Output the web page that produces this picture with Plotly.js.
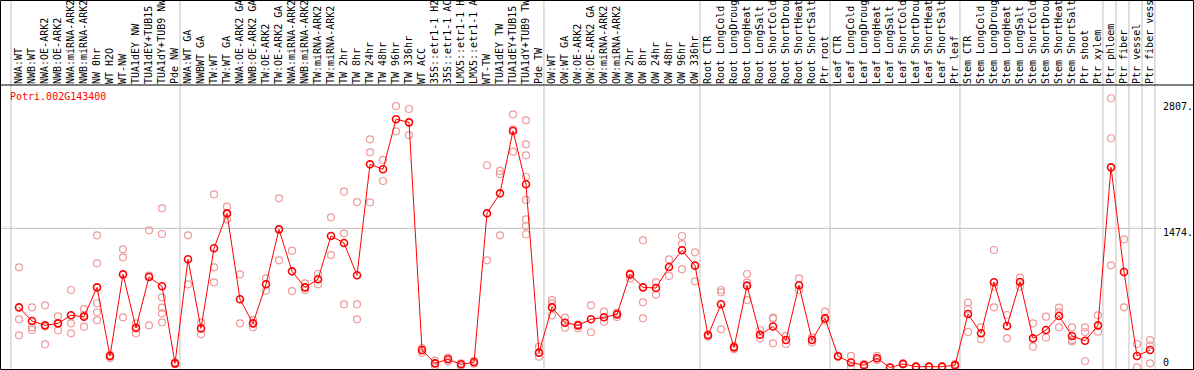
<!DOCTYPE html>
<html>
<head>
<meta charset="utf-8">
<script src="https://cdn.plot.ly/plotly-3.0.1.min.js"></script>
<style>
  html, body { margin: 0; padding: 0; background: #fff; overflow: hidden; }
  #chart { width: 1194px; height: 370px; }
</style>
</head>
<body>
<div id="chart"></div>
<script>
// ---------------- data ----------------
const geneName = "Potri.002G143400";

const categories = [
  "NWA:WT", "NWB:WT", "NWA:OE-ARK2", "NWB:OE-ARK2", "NWA:miRNA-ARK2", "NWB:miRNA-ARK2",
  "NW 0hr", "WT H2O", "WT-NW", "TUA1dEY NW", "TUA1dEY+TUB15 NW", "TUA1dY+TUB9 NW", "Pde NW",
  "NWA:WT GA", "NWBWT GA", "TW:WT", "TW:WT GA", "NWA:OE-ARK2 GA", "NWB:OE-ARK2 GA",
  "TW:OE-ARK2", "TW:OE-ARK2 GA", "NWA:miRNA-ARK2 GA", "NWB:miRNA-ARK2 GA", "TW:miRNA-ARK2",
  "TW:miRNA-ARK2 GA", "TW 2hr", "TW 8hr", "TW 24hr", "TW 48hr", "TW 96hr", "TW 336hr",
  "WT ACC", "35S::etr1-1 H2O", "35S::etr1-1 ACC", "LMX5::etr1-1 H2O", "LMX5::etr1-1 ACC",
  "WT-TW", "TUA1dEY TW", "TUA1dEY+TUB15 TW", "TUA1dY+TUB9 TW", "Pde TW",
  "OW:WT", "OW:WT GA", "OW:OE-ARK2", "OW:OE-ARK2 GA", "OW:miRNA-ARK2", "OW:miRNA-ARK2 GA",
  "OW 2hr", "OW 8hr", "OW 24hr", "OW 48hr", "OW 96hr", "OW 336hr",
  "Root CTR", "Root LongCold", "Root LongDrought", "Root LongHeat", "Root LongSalt",
  "Root ShortCold", "Root ShortDrought", "Root ShortHeat", "Root ShortSalt", "Ptr root",
  "Leaf CTR", "Leaf LongCold", "Leaf LongDrought", "Leaf LongHeat", "Leaf LongSalt",
  "Leaf ShortCold", "Leaf ShortDrought", "Leaf ShortHeat", "Leaf ShortSalt", "Ptr leaf",
  "Stem CTR", "Stem LongCold", "Stem LongDrought", "Stem LongHeat", "Stem LongSalt",
  "Stem ShortCold", "Stem ShortDrought", "Stem ShortHeat", "Stem ShortSalt", "Ptr shoot",
  "Ptr xylem", "Ptr phloem", "Ptr fiber", "Ptr vessel", "Ptr fiber vessel"
];

const meanValues = [
  640, 496, 450, 471, 556, 542, 851, 127, 988, 422, 960, 862, 49,
  1147, 418, 1263, 1632, 725, 471, 883, 1463, 1020, 851, 936, 1393,
  1319, 978, 2149, 2097, 2624, 2592,
  190, 49, 92, 39, 60, 1632, 1843, 2501, 1938, 162,
  640, 478, 450, 514, 535, 566, 988, 851, 844, 1066, 1242, 1080,
  345, 672, 218, 869, 350, 438, 295, 873, 295, 524,
  124, 58, 30, 103, 5, 43, 14, 14, 14, 30,
  570, 366, 904, 443, 907, 313, 401, 549, 338, 288, 450,
  2117, 1013, 127, 190
];

const replicateValues = [
  [1062, 514, 345], [640, 429, 401], [661, 440, 250], [545, 471, 398], [823, 471, 366],
  [622, 560, 436], [1400, 1104, 683, 588, 503], [140, 120, 105], [1252, 1168, 535],
  [471, 430, 366], [1453, 974, 450], [1685, 1414, 746, 636, 577, 482], [60, 45, 40],
  [1400, 883], [478, 355], [1833, 1062, 904], [1702, 1620, 1569], [988, 471], [506, 429],
  [946, 816], [1790, 1136], [1238, 812], [893, 823], [992, 883], [1590, 1192],
  [1860, 1421, 672], [1751, 672, 514], [2413, 2276, 1748], [2195, 1973], [2764, 2497],
  [2733, 2458],
  [210, 185, 160], [77, 49, 21], [109, 70], [50, 25], [75, 45], [2139, 1136],
  [2079, 2047, 1400], [2677, 2518, 2282], [2613, 2360, 2244, 2018, 1773, 1569, 1498, 1411],
  [225, 120],
  [717, 682, 556], [531, 425], [461, 419], [661, 377], [594, 489], [584, 538], [999, 946],
  [1347, 693, 524], [907, 774], [1147, 971], [1393, 1308, 1041], [1221, 915],
  [355, 330], [823, 798, 408], [232, 197], [992, 900, 717], [401, 313], [531, 520, 260],
  [338, 253], [946, 823], [320, 270], [594, 500],
  [130, 118], [127, 10], [40, 20], [127, 85], [8, 3], [50, 36], [18, 10], [18, 10], [18, 10], [40, 20],
  [689, 620, 380], [429, 303], [1245, 858, 640], [559, 313], [953, 858], [471, 225],
  [542, 323], [636, 590, 429], [429, 295, 280], [429, 380, 74], [556, 383],
  [2846, 2424, 1083], [1358, 640], [253, 7], [295, 240, 49]
];

// first category index of each group (group separators drawn before them)
const groupStarts = [0, 13, 41, 53, 63, 73, 84, 85, 86, 87, 88];

const yLabelValues = [2807, 1474, 0];
const yLabelTexts = ["2807.", "1474.", "0"];
const yGridValues = [1474];

// ---------------- build ----------------
const idx = categories.map((_, i) => i);
const repX = [], repY = [];
replicateValues.forEach((vals, i) => vals.forEach(v => { repX.push(i); repY.push(v); }));

const W = 1194, H = 370;
const mL = 1, mR = 33, mT = 85, mB = 1;
const plotW = W - mL - mR, plotH = H - mT - mB;
const px2paperX = px => (px - mL) / plotW;
const px2paperY = py => (H - mB - py) / plotH;

const mono = "DejaVu Sans Mono, Liberation Mono, monospace";
const gridColor = "#c0c0c0";

const shapes = [];
yGridValues.forEach(v => shapes.push({
  type: "line", xref: "paper", yref: "y", x0: 0, x1: 1, y0: v, y1: v,
  line: { color: gridColor, width: 1 }, layer: "below"
}));
groupStarts.forEach(k => shapes.push({
  type: "line", xref: "x", yref: "paper", x0: k - 0.62, x1: k - 0.62,
  y0: px2paperY(H + 2), y1: px2paperY(-2),
  line: { color: gridColor, width: 1 }, layer: "below"
}));
// frame and header separator
shapes.push({
  type: "rect", xref: "paper", yref: "paper",
  x0: px2paperX(0.5), x1: px2paperX(W - 0.5), y0: px2paperY(H - 0.5), y1: px2paperY(0.5),
  line: { color: "#000", width: 1 }, fillcolor: "rgba(0,0,0,0)"
});
shapes.push({
  type: "line", xref: "paper", yref: "paper",
  x0: px2paperX(0), x1: px2paperX(W), y0: px2paperY(85), y1: px2paperY(85),
  line: { color: "#000", width: 1 }
});

const yShifts = [-5, -4, 6];
const annotations = yLabelValues.map((v, i) => ({
  xref: "paper", yref: "y", x: px2paperX(1161), y: v, yshift: yShifts[i],
  xanchor: "left", yanchor: "middle", showarrow: false, text: yLabelTexts[i],
  font: { family: mono, size: 10, color: "#000" }
}));
annotations.push({
  xref: "paper", yref: "paper", x: px2paperX(8), y: px2paperY(96.5),
  xanchor: "left", yanchor: "middle", showarrow: false, text: geneName,
  font: { family: mono, size: 10, color: "#ff0000" }
});

const traces = [
  {
    type: "scatter", mode: "markers", x: repX, y: repY, cliponaxis: false,
    marker: { symbol: "circle-open", size: 7, color: "#f09a9a", line: { width: 1.2 } },
    hoverinfo: "skip"
  },
  {
    type: "scatter", mode: "lines+markers", x: idx, y: meanValues, cliponaxis: false,
    line: { color: "#ff0000", width: 1 },
    marker: { symbol: "circle-open", size: 7, color: "#ff0000", line: { width: 1.6 } }
  }
];

const x0 = -18 / 13;
const layout = {
  width: W, height: H,
  margin: { l: mL, r: mR, t: mT, b: mB, pad: 0 },
  paper_bgcolor: "#fff", plot_bgcolor: "#fff",
  showlegend: false,
  xaxis: {
    range: [x0, x0 + plotW / 13], side: "top",
    tickmode: "array", tickvals: idx, ticktext: categories,
    tickangle: -90, ticks: "", showgrid: false, zeroline: false, showline: false,
    tickfont: { family: mono, size: 10, color: "#000" }, automargin: false
  },
  yaxis: {
    range: [-10.55, 2986], showgrid: false, zeroline: false, showline: false,
    showticklabels: false, ticks: "", automargin: false
  },
  shapes: shapes,
  annotations: annotations
};

Plotly.newPlot("chart", traces, layout, { staticPlot: true, displayModeBar: false });
</script>
</body>
</html>
